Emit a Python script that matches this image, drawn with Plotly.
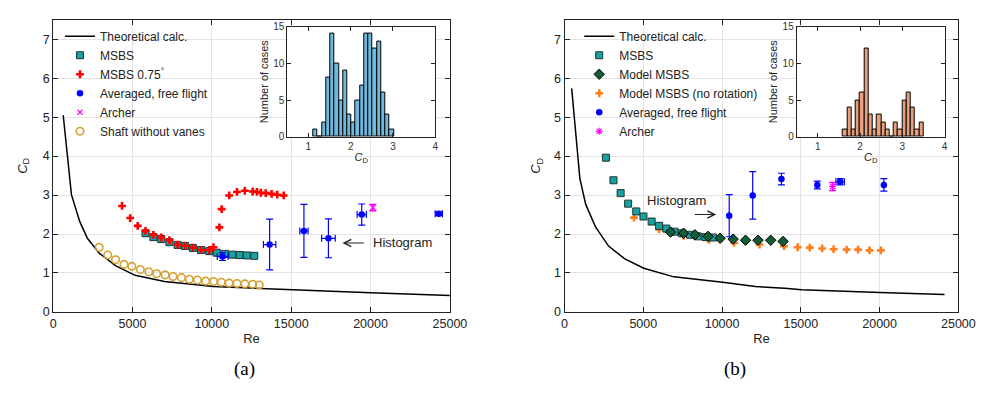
import plotly.graph_objects as go

# ---------------- data: panel (a) ----------------
theory_a_re = [636, 1154, 1667, 2160, 2901, 3930, 5167, 7019, 10105, 12963, 15864, 20000, 25000]
theory_a_cd = [5.05, 3.01, 2.33, 1.89, 1.51, 1.19, 0.94, 0.78, 0.65, 0.60, 0.55, 0.49, 0.42]

msbs_a_re = [5822, 6317, 6811, 7325, 7840, 8314, 8808, 9321, 9835, 10309, 10824, 11297, 11750, 12204, 12676]
msbs_a_cd = [2.02, 1.92, 1.87, 1.79, 1.72, 1.69, 1.64, 1.59, 1.56, 1.52, 1.49, 1.47, 1.46, 1.45, 1.44]

msbs075_re = [4342, 4856, 5329, 5822, 6317, 6811, 7325, 7840, 8314, 8808, 9321, 9835, 10104,
              10474, 10618, 11092, 11586, 12080, 12574, 12840, 13087, 13396, 13766, 14117, 14528]
msbs075_cd = [2.72, 2.41, 2.21, 2.08, 1.98, 1.91, 1.84, 1.73, 1.70, 1.65, 1.59, 1.59, 1.66,
              2.17, 2.64, 2.99, 3.08, 3.11, 3.09, 3.08, 3.06, 3.05, 3.03, 3.01, 2.99]

ff_a_re = [10679, 13642, 15803, 17346, 19445, 24300]
ff_a_cd = [1.42, 1.73, 2.08, 1.89, 2.50, 2.52]
ff_a_cd_err = [0.10, 0.65, 0.68, 0.50, 0.27, 0.05]
ff_a_re_err = [340, 390, 260, 430, 290, 230]

archer_a_re = [20142]
archer_a_cd = [2.68]
archer_a_err = [0.08]

shaft_re = [2901, 3437, 3930, 4466, 4959, 5494, 6029, 6523, 7058, 7552, 8087, 8581, 9094,
            9612, 10105, 10600, 11093, 11587, 12081, 12575, 12985]
shaft_cd = [1.66, 1.46, 1.34, 1.22, 1.17, 1.09, 1.03, 0.98, 0.95, 0.91, 0.88, 0.84, 0.82,
            0.79, 0.78, 0.76, 0.74, 0.73, 0.72, 0.71, 0.69]

hist_a_cd = [1.17, 1.27, 1.37, 1.47, 1.57, 1.67, 1.77, 1.87, 1.97, 2.07, 2.17, 2.27, 2.37,
             2.47, 2.57, 2.67, 2.77, 2.87, 2.97]
hist_a_n = [1, 0, 2, 8, 14, 10, 5, 9, 3, 2, 5, 7, 14, 14, 12, 13, 6, 3, 1]

# ---------------- data: panel (b) ----------------
theory_b_re = [453, 975, 1346, 1967, 2795, 3830, 5030, 6936, 10040, 12112, 13975, 15050, 20020, 24120]
theory_b_cd = [5.74, 3.42, 2.76, 2.18, 1.69, 1.36, 1.12, 0.90, 0.76, 0.65, 0.61, 0.57, 0.50, 0.45]

msbs_b_re = [2629, 3106, 3561, 4037, 4555, 5011, 5528, 6004, 6459, 6977, 7453, 7970, 8447, 8944, 9421]
msbs_b_cd = [3.96, 3.38, 3.05, 2.78, 2.58, 2.45, 2.32, 2.21, 2.14, 2.06, 2.02, 1.98, 1.94, 1.92, 1.91]

model_re = [6728, 7557, 8280, 9110, 9875, 10703, 11491, 12280, 13089, 13872]
model_cd = [2.05, 2.02, 1.98, 1.94, 1.89, 1.87, 1.84, 1.84, 1.84, 1.81]

norot_re = [4410, 6004, 7557, 9172, 10765, 12380, 13934, 14801, 15570, 16354, 17080,
            17906, 18633, 19360, 20080]
norot_cd = [2.42, 2.12, 1.95, 1.85, 1.77, 1.73, 1.69, 1.66, 1.65, 1.63, 1.61,
            1.60, 1.60, 1.58, 1.58]

ff_b_re = [10454, 11944, 13770, 16045, 17494, 20270]
ff_b_cd = [2.47, 2.99, 3.41, 3.26, 3.34, 3.26]
ff_b_cd_err = [0.54, 0.61, 0.15, 0.10, 0.08, 0.16]
ff_b_re_err = [0, 0, 0, 0, 270, 0]

archer_b_re = [17018]
archer_b_cd = [3.22]
archer_b_err = [0.10]

hist_b_cd = [1.65, 1.75, 1.85, 1.95, 2.05, 2.15, 2.25, 2.35, 2.45, 2.55, 2.65, 2.75, 2.85,
             2.95, 3.05, 3.15, 3.25, 3.35, 3.45]
hist_b_n = [1, 4, 1, 5, 6, 12, 3, 1, 3, 2, 1, 0, 2, 1, 5, 6, 4, 1, 2]

x_ticks = [0, 5000, 10000, 15000, 20000, 25000]
x_tick_text = ["0", "5000", "10000", "15000", "20000", "25000"]
y_ticks = [0, 1, 2, 3, 4, 5, 6, 7]
inset_x_ticks = [1, 2, 3, 4]
inset_y_ticks = [0, 5, 10, 15]

# ---------------- styles ----------------
FONT = "Liberation Sans"
W, H = 985, 397
TEAL = "#17a2a2"
GOLD = "#d4a033"
RED = "#ff0000"
ORANGE = "#ff7f1e"
DGREEN = "#145c36"
BLUE = "#0000ff"
MAG = "#ff00ff"

fig = go.Figure()

# panel (a)
fig.add_trace(go.Scatter(x=theory_a_re, y=theory_a_cd, mode="lines", name="Theoretical calc.",
                         line=dict(color="black", width=1.5), xaxis="x", yaxis="y", legend="legend",
                         legendrank=1))
fig.add_trace(go.Scatter(x=shaft_re, y=shaft_cd, mode="markers", name="Shaft without vanes",
                         marker=dict(symbol="circle-open", size=7.5, color=GOLD, line=dict(width=1.6, color=GOLD)),
                         xaxis="x", yaxis="y", legend="legend", legendrank=6))
fig.add_trace(go.Scatter(x=msbs_a_re, y=msbs_a_cd, mode="markers", name="MSBS",
                         marker=dict(symbol="square", size=7, color=TEAL, line=dict(width=1, color="#1e3333")),
                         xaxis="x", yaxis="y", legend="legend", legendrank=2))
fig.add_trace(go.Scatter(x=msbs075_re, y=msbs075_cd, mode="markers", name="MSBS 0.75<sup>°</sup>",
                         marker=dict(symbol="cross", size=6.5, color=RED, line=dict(width=0)),
                         xaxis="x", yaxis="y", legend="legend", legendrank=3))
fig.add_trace(go.Scatter(x=ff_a_re, y=ff_a_cd, mode="markers", name="Averaged, free flight",
                         marker=dict(symbol="circle", size=6.5, color=BLUE),
                         error_y=dict(type="data", array=ff_a_cd_err, color=BLUE, thickness=1.2, width=3.5),
                         error_x=dict(type="data", array=ff_a_re_err, color=BLUE, thickness=1.2, width=3.5),
                         xaxis="x", yaxis="y", legend="legend", legendrank=4))
fig.add_trace(go.Scatter(x=archer_a_re, y=archer_a_cd, mode="markers", name="Archer",
                         marker=dict(symbol="x-thin-open", size=5, color=MAG, line=dict(width=1.2, color=MAG)),
                         error_y=dict(type="data", array=archer_a_err, color=MAG, thickness=1.5, width=3.5),
                         xaxis="x", yaxis="y", legend="legend", legendrank=5))

# panel (b)
fig.add_trace(go.Scatter(x=theory_b_re, y=theory_b_cd, mode="lines", name="Theoretical calc.",
                         line=dict(color="black", width=1.5), xaxis="x2", yaxis="y2", legend="legend2", legendrank=1))
fig.add_trace(go.Scatter(x=norot_re, y=norot_cd, mode="markers", name="Model MSBS (no rotation)",
                         marker=dict(symbol="cross", size=6.5, color=ORANGE, line=dict(width=0)),
                         xaxis="x2", yaxis="y2", legend="legend2", legendrank=4))
fig.add_trace(go.Scatter(x=msbs_b_re, y=msbs_b_cd, mode="markers", name="MSBS",
                         marker=dict(symbol="square", size=7, color=TEAL, line=dict(width=1, color="#1e3333")),
                         xaxis="x2", yaxis="y2", legend="legend2", legendrank=2))
fig.add_trace(go.Scatter(x=model_re, y=model_cd, mode="markers", name="Model MSBS",
                         marker=dict(symbol="diamond", size=8, color=DGREEN, line=dict(width=1, color="black")),
                         xaxis="x2", yaxis="y2", legend="legend2", legendrank=3))
fig.add_trace(go.Scatter(x=ff_b_re, y=ff_b_cd, mode="markers", name="Averaged, free flight",
                         marker=dict(symbol="circle", size=6.5, color=BLUE),
                         error_y=dict(type="data", array=ff_b_cd_err, color=BLUE, thickness=1.2, width=3.5),
                         error_x=dict(type="data", array=ff_b_re_err, color=BLUE, thickness=1.2, width=3.5),
                         xaxis="x2", yaxis="y2", legend="legend2", legendrank=5))
fig.add_trace(go.Scatter(x=archer_b_re, y=archer_b_cd, mode="markers", name="Archer",
                         marker=dict(symbol="asterisk-open", size=6, color=MAG, line=dict(width=1.2, color=MAG)),
                         error_y=dict(type="data", array=archer_b_err, color=MAG, thickness=1.5, width=3.5),
                         xaxis="x2", yaxis="y2", legend="legend2", legendrank=6))

# insets
fig.add_trace(go.Bar(x=hist_a_cd, y=hist_a_n, width=0.1, marker=dict(color="#70b8dc", line=dict(color="black", width=1)),
                     xaxis="x3", yaxis="y3", showlegend=False))
fig.add_trace(go.Bar(x=hist_b_cd, y=hist_b_n, width=0.1, marker=dict(color="#e8a07c", line=dict(color="black", width=1)),
                     xaxis="x4", yaxis="y4", showlegend=False))


def px_x(p):
    return p / W


def px_y(p):
    return 1 - p / H


main_common = dict(showline=True, linecolor="#222222", linewidth=1, mirror="ticks", ticks="inside",
                   ticklen=5, tickcolor="#222222", showgrid=True, gridcolor="#e3e3e3", gridwidth=1,
                   zeroline=False, tickfont=dict(family=FONT, size=12.5, color="#222222"))
inset_common = dict(showline=True, linecolor="#222222", linewidth=1, mirror="ticks", ticks="inside",
                    ticklen=4, tickcolor="#222222", showgrid=False, zeroline=False,
                    tickfont=dict(family=FONT, size=10, color="#333333"))

cd_title = "<i>C</i><sub>D</sub>"

fig.update_layout(
    width=W, height=H, margin=dict(l=0, r=0, t=0, b=0),
    paper_bgcolor="white", plot_bgcolor="white",
    font=dict(family=FONT, color="#222222"),
    barmode="overlay", bargap=0,
    xaxis=dict(domain=[px_x(43), px_x(448)], range=[0, 25000], tickvals=x_ticks, ticktext=x_tick_text,
               anchor="y", title=dict(text="Re", font=dict(size=13), standoff=3), **main_common),
    yaxis=dict(domain=[px_y(308), px_y(6)], range=[0, 7.5], tickvals=y_ticks, anchor="x",
               title=dict(text=cd_title, font=dict(size=13), standoff=12), **main_common),
    xaxis2=dict(domain=[px_x(565), px_x(967)], range=[0, 25000], tickvals=x_ticks, ticktext=x_tick_text,
                anchor="y2", title=dict(text="Re", font=dict(size=13), standoff=3), **main_common),
    yaxis2=dict(domain=[px_y(308), px_y(6)], range=[0, 7.5], tickvals=y_ticks, anchor="x2",
                title=dict(text=cd_title, font=dict(size=13), standoff=10), **main_common),
    xaxis3=dict(domain=[px_x(282), px_x(433)], range=[0.5, 4], tickvals=inset_x_ticks, anchor="y3",
                title=dict(text=cd_title, font=dict(size=11), standoff=2), **inset_common),
    yaxis3=dict(domain=[px_y(127), px_y(13)], range=[0, 15], tickvals=inset_y_ticks, anchor="x3",
                title=dict(text="Number of cases", font=dict(size=11), standoff=2), **inset_common),
    xaxis4=dict(domain=[px_x(802), px_x(953)], range=[0.5, 4], tickvals=inset_x_ticks, anchor="y4",
                title=dict(text=cd_title, font=dict(size=11), standoff=2), **inset_common),
    yaxis4=dict(domain=[px_y(127), px_y(13)], range=[0, 15], tickvals=inset_y_ticks, anchor="x4",
                title=dict(text="Number of cases", font=dict(size=11), standoff=2), **inset_common),
    legend=dict(x=px_x(50), y=px_y(8), xanchor="left", yanchor="top", bgcolor="rgba(0,0,0,0)",
                borderwidth=0, font=dict(family=FONT, size=12, color="#222222"), tracegroupgap=0,
                traceorder="normal", itemwidth=30),
    legend2=dict(x=px_x(580), y=px_y(8), xanchor="left", yanchor="top", bgcolor="rgba(0,0,0,0)",
                 borderwidth=0, font=dict(family=FONT, size=12, color="#222222"), tracegroupgap=0,
                 traceorder="normal", itemwidth=30),
    showlegend=True,
)

annots = [
    dict(text="Histogram", x=18229, y=1.77, ax=22037, ay=1.77, xref="x", yref="y", axref="x", ayref="y",
         showarrow=True, arrowhead=5, arrowsize=1.3, arrowwidth=1.1, arrowcolor="#222222", startstandoff=8,
         font=dict(family=FONT, size=13, color="#222222")),
    dict(text="Histogram", x=7081, y=2.86, xref="x2", yref="y2", showarrow=False,
         font=dict(family=FONT, size=13, color="#222222")),
    dict(text="", x=9627, y=2.50, ax=8180, ay=2.50, xref="x2", yref="y2", axref="x2", ayref="y2",
         showarrow=True, arrowhead=5, arrowsize=1.3, arrowwidth=1.1, arrowcolor="#222222"),
    dict(text="(a)", x=px_x(226), y=px_y(380), xref="paper", yref="paper", showarrow=False,
         font=dict(family="Liberation Serif", size=19, color="black")),
    dict(text="(b)", x=px_x(752), y=px_y(380), xref="paper", yref="paper", showarrow=False,
         font=dict(family="Liberation Serif", size=19, color="black")),
]
fig.update_layout(annotations=annots)

fig.write_html("out.html")
